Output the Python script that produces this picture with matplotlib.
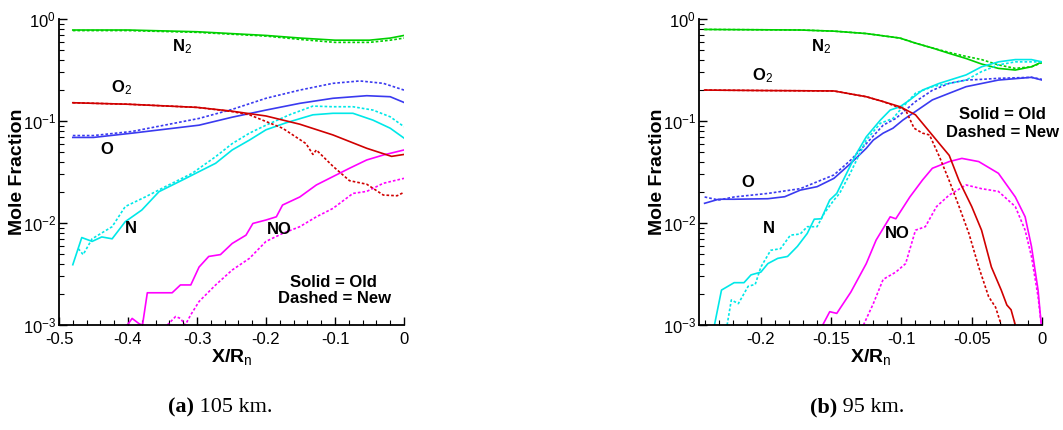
import matplotlib
matplotlib.use("Agg")
import matplotlib.pyplot as plt
from matplotlib.ticker import MultipleLocator, LogLocator, NullFormatter
import numpy as np

plt.rcParams['font.family'] = ['Liberation Sans', 'DejaVu Sans']
plt.rcParams['mathtext.fontset'] = 'custom'
plt.rcParams['mathtext.rm'] = 'Liberation Sans'
plt.rcParams['mathtext.it'] = 'Liberation Sans'
plt.rcParams['mathtext.bf'] = 'Liberation Sans:bold'
plt.rcParams['axes.unicode_minus'] = False

# ---------------- Panel (a) 105 km ----------------
a_n2_old_x = [-0.48, -0.4, -0.3, -0.2, -0.15, -0.1, -0.05, -0.02, 0.0]
a_n2_old_y = [0.78, 0.78, 0.75, 0.69, 0.65, 0.62, 0.62, 0.65, 0.69]
a_n2_new_x = [-0.48, -0.4, -0.3, -0.2, -0.15, -0.1, -0.05, -0.02, 0.0]
a_n2_new_y = [0.77, 0.77, 0.74, 0.68, 0.63, 0.59, 0.59, 0.62, 0.65]

a_o2_old_x = [-0.48, -0.4, -0.3, -0.25, -0.2, -0.151, -0.103, -0.054, -0.018, 0.0]
a_o2_old_y = [0.151, 0.146, 0.136, 0.125, 0.112, 0.093, 0.073, 0.054, 0.045, 0.047]
a_o2_new_x = [-0.48, -0.4, -0.3, -0.25, -0.224, -0.176, -0.142, -0.132, -0.127, -0.103,
              -0.079, -0.054, -0.03, -0.01, 0.0]
a_o2_new_y = [0.151, 0.146, 0.136, 0.124, 0.115, 0.085, 0.060, 0.047, 0.052, 0.036,
              0.026, 0.024, 0.0188, 0.0185, 0.020]

a_o_old_x = [-0.48, -0.45, -0.394, -0.297, -0.249, -0.2, -0.151, -0.103, -0.054, -0.02, 0.0]
a_o_old_y = [0.069, 0.069, 0.076, 0.091, 0.109, 0.128, 0.149, 0.167, 0.177, 0.173, 0.152]
a_o_new_x = [-0.48, -0.45, -0.394, -0.297, -0.249, -0.2, -0.151, -0.103, -0.064, -0.03, 0.0]
a_o_new_y = [0.072, 0.072, 0.079, 0.106, 0.130, 0.167, 0.201, 0.234, 0.247, 0.234, 0.201]

a_n_old_x = [-0.48, -0.467, -0.452, -0.438, -0.423, -0.404, -0.38, -0.355, -0.321, -0.297,
             -0.273, -0.249, -0.224, -0.2, -0.171, -0.132, -0.103, -0.074, -0.045, -0.02, 0.0]
a_n_old_y = [0.0039, 0.0072, 0.0066, 0.0073, 0.0070, 0.0103, 0.0134, 0.0203, 0.0264, 0.0319,
             0.0385, 0.052, 0.065, 0.082, 0.096, 0.115, 0.119, 0.119, 0.102, 0.085, 0.068]
a_n_new_x = [-0.472, -0.465, -0.452, -0.423, -0.404, -0.375, -0.346, -0.307, -0.273, -0.249,
             -0.224, -0.2, -0.166, -0.132, -0.103, -0.074, -0.045, -0.02, 0.0]
a_n_new_y = [0.0056, 0.0049, 0.0070, 0.0092, 0.0145, 0.018, 0.0227, 0.0307, 0.0447, 0.060,
             0.076, 0.091, 0.115, 0.140, 0.138, 0.138, 0.128, 0.110, 0.088]

a_no_old_x = [-0.401, -0.394, -0.384, -0.379, -0.372, -0.336, -0.324, -0.309, -0.297, -0.283,
              -0.266, -0.249, -0.229, -0.219, -0.2, -0.185, -0.176, -0.151, -0.127, -0.103,
              -0.079, -0.054, -0.03, 0.0]
a_no_old_y = [0.0010, 0.00116, 0.00103, 0.0010, 0.00207, 0.00207, 0.00247, 0.00247, 0.0037, 0.0047,
              0.0049, 0.0063, 0.0076, 0.0099, 0.0107, 0.0115, 0.015, 0.018, 0.0236, 0.0285,
              0.0344, 0.0415, 0.0464, 0.052]
a_no_new_x = [-0.343, -0.331, -0.324, -0.317, -0.309, -0.297, -0.273, -0.249, -0.224, -0.2,
              -0.176, -0.151, -0.127, -0.103, -0.074, -0.054, -0.03, 0.0]
a_no_new_y = [0.0010, 0.00121, 0.00116, 0.0010, 0.00126, 0.0017, 0.00247, 0.00346, 0.0045, 0.0066,
              0.0079, 0.0092, 0.0115, 0.0139, 0.0195, 0.0204, 0.0245, 0.0274]

# ---------------- Panel (b) 95 km ----------------
b_n2_old_x = [-0.24, -0.172, -0.148, -0.125, -0.101, -0.09, -0.078, -0.066, -0.054, -0.043,
              -0.031, -0.019, -0.0075, 0.0]
b_n2_old_y = [0.79, 0.78, 0.76, 0.72, 0.65, 0.58, 0.52, 0.46, 0.41, 0.362,
              0.328, 0.316, 0.34, 0.38]
b_n2_new_x = [-0.24, -0.172, -0.148, -0.125, -0.101, -0.09, -0.078, -0.066, -0.054, -0.043,
              -0.031, -0.019, -0.0075, 0.0]
b_n2_new_y = [0.79, 0.78, 0.76, 0.72, 0.65, 0.58, 0.52, 0.47, 0.43, 0.40,
              0.355, 0.328, 0.34, 0.373]

b_o2_old_x = [-0.24, -0.2, -0.148, -0.125, -0.113, -0.101, -0.09, -0.083, -0.073, -0.066,
              -0.059, -0.05, -0.043, -0.036, -0.029, -0.025, -0.022, -0.019]
b_o2_old_y = [0.201, 0.199, 0.197, 0.173, 0.155, 0.138, 0.115, 0.088, 0.060, 0.046,
              0.026, 0.0145, 0.0085, 0.0037, 0.0022, 0.00157, 0.00141, 0.0010]
b_o2_new_x = [-0.24, -0.2, -0.148, -0.125, -0.113, -0.097, -0.091, -0.085, -0.08, -0.073,
              -0.066, -0.059, -0.052, -0.045, -0.038, -0.033, -0.029]
b_o2_new_y = [0.201, 0.199, 0.197, 0.173, 0.155, 0.128, 0.085, 0.076, 0.073, 0.0447,
              0.026, 0.0145, 0.0079, 0.0037, 0.0019, 0.00149, 0.0010]

b_o_old_x = [-0.24, -0.23, -0.219, -0.195, -0.183, -0.172, -0.16, -0.148, -0.136, -0.125,
             -0.12, -0.113, -0.106, -0.099, -0.09, -0.078, -0.066, -0.054, -0.031, -0.0075, 0.0]
b_o_old_y = [0.0156, 0.0171, 0.0171, 0.0173, 0.0181, 0.021, 0.0227, 0.0274, 0.0385, 0.054,
             0.065, 0.076, 0.085, 0.102, 0.124, 0.161, 0.187, 0.217, 0.252, 0.268, 0.252]
b_o_new_x = [-0.24, -0.23, -0.219, -0.195, -0.172, -0.148, -0.136, -0.125, -0.113, -0.104,
             -0.09, -0.078, -0.066, -0.054, -0.043, -0.031, -0.0075, 0.0]
b_o_new_y = [0.018, 0.0168, 0.018, 0.0195, 0.0217, 0.0296, 0.0415, 0.060, 0.091, 0.106,
             0.155, 0.20, 0.234, 0.252, 0.256, 0.262, 0.268, 0.256]

b_n_old_x = [-0.233, -0.228, -0.219, -0.212, -0.207, -0.2, -0.195, -0.188, -0.181, -0.174,
             -0.167, -0.162, -0.157, -0.151, -0.146, -0.139, -0.132, -0.125, -0.115, -0.108,
             -0.101, -0.094, -0.085, -0.073, -0.054, -0.043, -0.031, -0.019, -0.0075, 0.0]
b_n_old_y = [0.0010, 0.0022, 0.0026, 0.0026, 0.0031, 0.0033, 0.0040, 0.0045, 0.0047, 0.0059,
             0.0079, 0.0109, 0.0110, 0.0168, 0.0195, 0.0307, 0.048, 0.070, 0.102, 0.128,
             0.138, 0.161, 0.201, 0.234, 0.283, 0.34, 0.38, 0.40, 0.40, 0.38]
b_n_new_x = [-0.224, -0.221, -0.216, -0.209, -0.204, -0.2, -0.193, -0.186, -0.179, -0.172,
             -0.167, -0.16, -0.155, -0.148, -0.144, -0.137, -0.125, -0.115, -0.106, -0.101,
             -0.09, -0.078, -0.054, -0.043, -0.031, -0.019, 0.0]
b_n_new_y = [0.0010, 0.00176, 0.00162, 0.0024, 0.0025, 0.0037, 0.0054, 0.0056, 0.0076, 0.0078,
             0.0092, 0.0092, 0.0124, 0.0168, 0.0195, 0.0296, 0.065, 0.095, 0.106, 0.128,
             0.187, 0.217, 0.252, 0.305, 0.355, 0.38, 0.38]

b_no_old_x = [-0.156, -0.151, -0.146, -0.136, -0.125, -0.118, -0.108, -0.104, -0.094, -0.085,
              -0.078, -0.066, -0.057, -0.045, -0.031, -0.019, -0.012, -0.0075, -0.0028, -0.0005]
b_no_old_y = [0.0010, 0.00135, 0.0013, 0.0021, 0.0040, 0.0068, 0.0115, 0.0110, 0.018, 0.0264,
              0.0344, 0.040, 0.043, 0.040, 0.0307, 0.018, 0.0115, 0.0059, 0.0022, 0.0010]
b_no_new_x = [-0.127, -0.12, -0.113, -0.104, -0.097, -0.09, -0.083, -0.075, -0.066, -0.054,
              -0.043, -0.031, -0.019, -0.012, -0.0075, -0.0028, -0.0005]
b_no_new_y = [0.0010, 0.00162, 0.0028, 0.0033, 0.0040, 0.0085, 0.0092, 0.0145, 0.0188, 0.0236,
              0.0217, 0.0204, 0.0145, 0.0085, 0.0047, 0.0019, 0.0010]

C_N2 = '#00d000'
C_O2 = '#d00000'
C_O = '#3a3af0'
C_N = '#00e8e8'
C_NO = '#ff00ff'

fig = plt.figure(figsize=(10.63, 4.30), dpi=100)
axA = fig.add_axes([59/1063, 105/430, 345/1063, 306/430])
axB = fig.add_axes([699/1063, 105/430, 343/1063, 306/430])

def style(ax, xmin, major, minor):
    ax.set_yscale('log')
    ax.set_ylim(1e-3, 1.0)
    ax.set_xlim(xmin, 0)
    ax.spines['top'].set_visible(False)
    ax.spines['right'].set_visible(False)
    for s in ('left', 'bottom'):
        ax.spines[s].set_linewidth(1.3)
    ax.xaxis.set_major_locator(MultipleLocator(major))
    ax.xaxis.set_minor_locator(MultipleLocator(minor))
    ax.yaxis.set_major_locator(LogLocator(base=10, numticks=10))
    ax.yaxis.set_minor_locator(LogLocator(base=10, subs=np.arange(2, 10), numticks=10))
    ax.yaxis.set_minor_formatter(NullFormatter())
    ax.tick_params(which='major', direction='in', length=6, width=1.0, labelsize=12,
                   top=False, right=False)
    ax.tick_params(which='minor', direction='in', length=3.5, width=0.8,
                   top=False, right=False)
    ax.tick_params(axis='x', pad=5)
    ax.tick_params(axis='y', pad=2)
    ax.set_ylabel('Mole Fraction', fontsize=14, fontweight='bold')
    ax.yaxis.set_label_coords(-0.097, 0.5)
    ax.set_xlabel(r'X/R$_n$', fontsize=14, fontweight='bold', labelpad=0)

style(axA, -0.5, 0.1, 0.02)
style(axB, -0.244, 0.05, 0.01)
axA.set_xticks([-0.5, -0.4, -0.3, -0.2, -0.1, 0])
axA.set_xticklabels(['-0.5', '-0.4', '-0.3', '-0.2', '-0.1', '0'])
axB.set_xticks([-0.2, -0.15, -0.1, -0.05, 0])
axB.set_xticklabels(['-0.2', '-0.15', '-0.1', '-0.05', '0'])

def plot_pair(ax, x1, y1, x2, y2, c):
    ax.plot(x1, y1, color=c, lw=1.2, ls='-')
    ax.plot(x2, y2, color=c, lw=1.2, ls=(0, (1.6, 1.2)))

plot_pair(axA, a_n2_old_x, a_n2_old_y, a_n2_new_x, a_n2_new_y, C_N2)
plot_pair(axA, a_o_old_x, a_o_old_y, a_o_new_x, a_o_new_y, C_O)
plot_pair(axA, a_n_old_x, a_n_old_y, a_n_new_x, a_n_new_y, C_N)
plot_pair(axA, a_no_old_x, a_no_old_y, a_no_new_x, a_no_new_y, C_NO)
plot_pair(axA, a_o2_old_x, a_o2_old_y, a_o2_new_x, a_o2_new_y, C_O2)

plot_pair(axB, b_n2_old_x, b_n2_old_y, b_n2_new_x, b_n2_new_y, C_N2)
plot_pair(axB, b_o_old_x, b_o_old_y, b_o_new_x, b_o_new_y, C_O)
plot_pair(axB, b_n_old_x, b_n_old_y, b_n_new_x, b_n_new_y, C_N)
plot_pair(axB, b_no_old_x, b_no_old_y, b_no_new_x, b_no_new_y, C_NO)
plot_pair(axB, b_o2_old_x, b_o2_old_y, b_o2_new_x, b_o2_new_y, C_O2)

lab = dict(fontsize=12, fontweight='bold', ha='center', va='center')
# panel a labels
axA.text(-0.322, 0.53, r'N$_2$', **lab)
axA.text(-0.41, 0.21, r'O$_2$', **lab)
axA.text(-0.431, 0.052, 'O', **lab)
axA.text(-0.396, 0.0089, 'N', **lab)
axA.text(-0.18, 0.0087, 'NO', **lab)
axA.text(-0.102, 10**-2.58, 'Solid = Old', **lab)
axA.text(-0.1, 10**-2.745, 'Dashed = New', **lab)
# panel b labels
axB.text(-0.157, 0.53, r'N$_2$', **lab)
axB.text(-0.199, 0.28, r'O$_2$', **lab)
axB.text(-0.209, 0.025, 'O', **lab)
axB.text(-0.194, 0.0089, 'N', **lab)
axB.text(-0.103, 10**-2.1, 'NO', **lab)
axB.text(-0.028, 10**-0.94, 'Solid = Old', **lab)
axB.text(-0.028, 10**-1.11, 'Dashed = New', **lab)

# captions: bold "(a)" followed by regular text, Times-like serif
serif = ['Liberation Serif', 'DejaVu Serif']
fig.canvas.draw()
renderer = fig.canvas.get_renderer()
for left_px, tag, rest in [(168, '(a)', ' 105 km.'), (810, '(b)', ' 95 km.')]:
    t1 = fig.text(left_px/1063, 1 - 407/430, tag, fontsize=16, fontweight='bold',
                  family=serif, ha='left', va='center')
    bb = t1.get_window_extent(renderer=renderer)
    fig.text(bb.x1/1063, 1 - 407/430, rest, fontsize=16, family=serif,
             ha='left', va='center')

fig.savefig('out.png', dpi=100)
